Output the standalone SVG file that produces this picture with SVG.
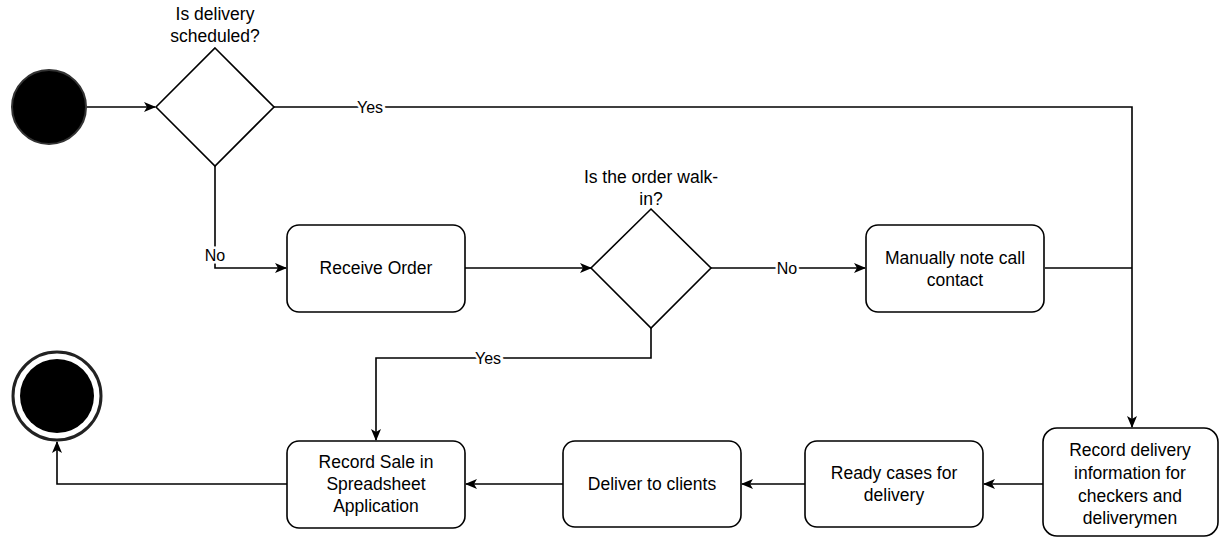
<svg xmlns="http://www.w3.org/2000/svg" width="1219" height="539" viewBox="0 0 1219 539">
<style>
.n{fill:#fff;stroke:#000;stroke-width:1.6}
.t{font-family:"Liberation Sans",Arial,sans-serif;font-size:17.5px;fill:#000;text-anchor:middle}
.e{fill:none;stroke:#000;stroke-width:1.6}
.l{font-family:"Liberation Sans",Arial,sans-serif;font-size:16px;fill:#000;text-anchor:middle;stroke:#fff;stroke-width:5;paint-order:stroke}
</style>
<defs>
<marker id="a" viewBox="0 0 12 10" refX="11" refY="5" markerWidth="12" markerHeight="10" markerUnits="userSpaceOnUse" orient="auto">
<path d="M0,0 L12,5 L0,10 L3,5 Z" fill="#000"/>
</marker>
</defs>
<rect width="1219" height="539" fill="#fff"/>
<g id="connectors">
<path class="e" d="M87,107 H155" marker-end="url(#a)"/>
<path class="e" d="M274,107 H1132 V427" marker-end="url(#a)"/>
<path class="e" d="M215,166 V268 H286" marker-end="url(#a)"/>
<path class="e" d="M465,268 H591" marker-end="url(#a)"/>
<path class="e" d="M711,268 H865" marker-end="url(#a)"/>
<path class="e" d="M1045,268 H1132"/>
<path class="e" d="M651,328 V358 H376 V440" marker-end="url(#a)"/>
<path class="e" d="M1043,484 H984" marker-end="url(#a)"/>
<path class="e" d="M805,484 H742" marker-end="url(#a)"/>
<path class="e" d="M563,484 H466" marker-end="url(#a)"/>
<path class="e" d="M287,484 H57 V442" marker-end="url(#a)"/>
<text class="l" x="370" y="113">Yes</text>
<text class="l" x="215" y="261">No</text>
<text class="l" x="787" y="274">No</text>
<text class="l" x="488" y="364">Yes</text>
</g>
<g id="start"><circle cx="49" cy="107" r="37" fill="#000" stroke="#333" stroke-width="2"/></g>
<g id="end">
<circle cx="57" cy="396" r="44" fill="#fff" stroke="#222" stroke-width="3"/>
<circle cx="57" cy="396" r="37" fill="#000"/>
</g>
<g id="d1">
<path class="n" d="M215,48 L274,107 L215,166 L156,107 Z"/>
<text class="t" x="215" y="20">Is delivery</text>
<text class="t" x="215" y="42">scheduled?</text>
</g>
<g id="receive">
<rect class="n" x="287" y="225" width="178" height="87" rx="12"/>
<text class="t" x="376" y="274">Receive Order</text>
</g>
<g id="d2">
<path class="n" d="M651,209 L711,268 L651,328 L591,268 Z"/>
<text class="t" x="651" y="183">Is the order walk-</text>
<text class="t" x="651" y="205">in?</text>
</g>
<g id="manual">
<rect class="n" x="866" y="225" width="178" height="87" rx="12"/>
<text class="t" x="955" y="264">Manually note call</text>
<text class="t" x="955" y="286">contact</text>
</g>
<g id="recdel">
<rect class="n" x="1043" y="428" width="175" height="108" rx="14"/>
<text class="t" x="1130" y="456">Record delivery</text>
<text class="t" x="1130" y="479">information for</text>
<text class="t" x="1130" y="502">checkers and</text>
<text class="t" x="1130" y="524">deliverymen</text>
</g>
<g id="ready">
<rect class="n" x="805" y="441" width="178" height="86" rx="12"/>
<text class="t" x="894" y="479">Ready cases for</text>
<text class="t" x="894" y="501">delivery</text>
</g>
<g id="deliver">
<rect class="n" x="563" y="441" width="178" height="86" rx="12"/>
<text class="t" x="652" y="490">Deliver to clients</text>
</g>
<g id="recsale">
<rect class="n" x="287" y="441" width="178" height="87" rx="12"/>
<text class="t" x="376" y="468">Record Sale in</text>
<text class="t" x="376" y="490">Spreadsheet</text>
<text class="t" x="376" y="512">Application</text>
</g>
</svg>
